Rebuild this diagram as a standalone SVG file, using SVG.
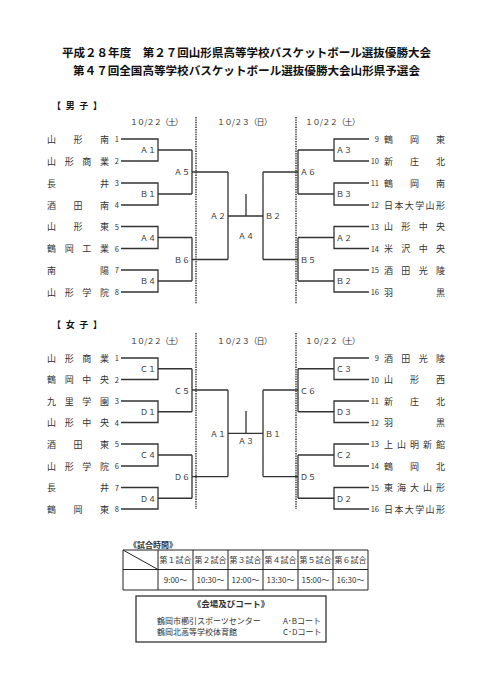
<svg xmlns="http://www.w3.org/2000/svg" width="481" height="680" viewBox="0 0 481 680">
<style>
text{font-family:"Noto Sans CJK JP","Noto Sans",sans-serif;fill:#333}
.t{font-size:11.6px;font-weight:bold;fill:#111}
.h{font-size:9px;font-weight:bold;fill:#111}
.d{font-size:8px}
.n{font-size:9px}
.num{font-size:7.5px}
.lb{font-size:8px}
.tb{font-size:8px}
.ln{fill:none;stroke:#333;stroke-width:1.3}
.dash{fill:none;stroke:#444;stroke-width:1.6;stroke-dasharray:1.4 1}
.grid{fill:none;stroke:#222;stroke-width:1}
</style>
<rect width="481" height="680" fill="#fff"/>
<g id="title">
<text class="t" x="62" y="56.5" textLength="369" lengthAdjust="spacingAndGlyphs">平成２８年度　第２７回山形県高等学校バスケットボール選抜優勝大会</text>
<text class="t" x="73" y="75" textLength="347" lengthAdjust="spacingAndGlyphs">第４７回全国高等学校バスケットボール選抜優勝大会山形県予選会</text>
</g>
<!-- MEN -->
<g id="men">
<text class="h" x="52" y="109" textLength="50" lengthAdjust="spacing">【男子】</text>
<text class="d" x="130" y="125" textLength="53" lengthAdjust="spacing">１０/２２（土）</text>
<text class="d" x="217" y="125" textLength="55" lengthAdjust="spacing">１０/２３（日）</text>
<text class="d" x="305" y="125" textLength="55" lengthAdjust="spacing">１０/２２（土）</text>
<g id="men-left-teams" class="n">
<text class="n" x="47" y="142.5" textLength="62" lengthAdjust="spacing">山形南</text>
<text class="n" x="47" y="164.5" textLength="62" lengthAdjust="spacing">山形商業</text>
<text class="n" x="47" y="186.5" textLength="62" lengthAdjust="spacing">長井</text>
<text class="n" x="47" y="208.5" textLength="62" lengthAdjust="spacing">酒田南</text>
<text class="n" x="47" y="230" textLength="62" lengthAdjust="spacing">山形東</text>
<text class="n" x="47" y="252" textLength="62" lengthAdjust="spacing">鶴岡工業</text>
<text class="n" x="47" y="273.5" textLength="62" lengthAdjust="spacing">南陽</text>
<text class="n" x="47" y="295.5" textLength="62" lengthAdjust="spacing">山形学院</text>
</g>
<g id="men-left-nums" text-anchor="end">
<text class="num" x="119" y="142">1</text>
<text class="num" x="119" y="164">2</text>
<text class="num" x="119" y="186">3</text>
<text class="num" x="119" y="208">4</text>
<text class="num" x="119" y="229.5">5</text>
<text class="num" x="119" y="251.5">6</text>
<text class="num" x="119" y="273">7</text>
<text class="num" x="119" y="295">8</text>
</g>
<g id="men-right-nums" text-anchor="end">
<text class="num" x="379" y="142">9</text>
<text class="num" x="379" y="164">10</text>
<text class="num" x="379" y="186">11</text>
<text class="num" x="379" y="208">12</text>
<text class="num" x="379" y="229.5">13</text>
<text class="num" x="379" y="251.5">14</text>
<text class="num" x="379" y="273">15</text>
<text class="num" x="379" y="295">16</text>
</g>
<g id="men-right-teams">
<text class="n" x="384" y="142.5" textLength="61" lengthAdjust="spacing">鶴岡東</text>
<text class="n" x="384" y="164.5" textLength="61" lengthAdjust="spacing">新庄北</text>
<text class="n" x="384" y="186.5" textLength="61" lengthAdjust="spacing">鶴岡南</text>
<text class="n" x="384" y="208.5" textLength="61" lengthAdjust="spacing">日本大学山形</text>
<text class="n" x="384" y="230" textLength="61" lengthAdjust="spacing">山形中央</text>
<text class="n" x="384" y="252" textLength="61" lengthAdjust="spacing">米沢中央</text>
<text class="n" x="384" y="273.5" textLength="61" lengthAdjust="spacing">酒田光陵</text>
<text class="n" x="384" y="295.5" textLength="61" lengthAdjust="spacing">羽黒</text>
</g>
<g id="men-labels">
<g text-anchor="end">
<text class="lb" x="156" y="153">Ａ１</text>
<text class="lb" x="156" y="197">Ｂ１</text>
<text class="lb" x="156" y="240.5">Ａ４</text>
<text class="lb" x="156" y="284">Ｂ４</text>
<text class="lb" x="190" y="175">Ａ５</text>
<text class="lb" x="190" y="262.5">Ｂ６</text>
<text class="lb" x="226" y="219">Ａ２</text>
</g>
<text class="lb" x="265" y="219">Ｂ２</text>
<text class="lb" x="246" y="238.5" text-anchor="middle">Ａ４</text>
<text class="lb" x="336" y="153">Ａ３</text>
<text class="lb" x="336" y="197">Ｂ３</text>
<text class="lb" x="336" y="240.5">Ａ２</text>
<text class="lb" x="336" y="284">Ｂ２</text>
<text class="lb" x="300" y="175">Ａ６</text>
<text class="lb" x="300" y="262.5">Ｂ５</text>
</g>
</g>
<!-- WOMEN -->
<g id="women">
<text class="h" x="52" y="328" textLength="50" lengthAdjust="spacing">【女子】</text>
<text class="d" x="130" y="344" textLength="53" lengthAdjust="spacing">１０/２２（土）</text>
<text class="d" x="217" y="344" textLength="55" lengthAdjust="spacing">１０/２３（日）</text>
<text class="d" x="305" y="344" textLength="55" lengthAdjust="spacing">１０/２２（土）</text>
<g id="women-left-teams">
<text class="n" x="47" y="361.5" textLength="62" lengthAdjust="spacing">山形商業</text>
<text class="n" x="47" y="383" textLength="62" lengthAdjust="spacing">鶴岡中央</text>
<text class="n" x="47" y="404.5" textLength="62" lengthAdjust="spacing">九里学園</text>
<text class="n" x="47" y="426" textLength="62" lengthAdjust="spacing">山形中央</text>
<text class="n" x="47" y="447.5" textLength="62" lengthAdjust="spacing">酒田東</text>
<text class="n" x="47" y="469.5" textLength="62" lengthAdjust="spacing">山形学院</text>
<text class="n" x="47" y="491" textLength="62" lengthAdjust="spacing">長井</text>
<text class="n" x="47" y="512.5" textLength="62" lengthAdjust="spacing">鶴岡東</text>
</g>
<g id="women-left-nums" text-anchor="end">
<text class="num" x="119" y="361">1</text>
<text class="num" x="119" y="382.5">2</text>
<text class="num" x="119" y="404">3</text>
<text class="num" x="119" y="425.5">4</text>
<text class="num" x="119" y="447">5</text>
<text class="num" x="119" y="469">6</text>
<text class="num" x="119" y="490.5">7</text>
<text class="num" x="119" y="512">8</text>
</g>
<g id="women-right-nums" text-anchor="end">
<text class="num" x="379" y="361">9</text>
<text class="num" x="379" y="382.5">10</text>
<text class="num" x="379" y="404">11</text>
<text class="num" x="379" y="425.5">12</text>
<text class="num" x="379" y="447">13</text>
<text class="num" x="379" y="469">14</text>
<text class="num" x="379" y="490.5">15</text>
<text class="num" x="379" y="512">16</text>
</g>
<g id="women-right-teams">
<text class="n" x="384" y="361.5" textLength="61" lengthAdjust="spacing">酒田光陵</text>
<text class="n" x="384" y="383" textLength="61" lengthAdjust="spacing">山形西</text>
<text class="n" x="384" y="404.5" textLength="61" lengthAdjust="spacing">新庄北</text>
<text class="n" x="384" y="426" textLength="61" lengthAdjust="spacing">羽黒</text>
<text class="n" x="384" y="447.5" textLength="61" lengthAdjust="spacing">上山明新館</text>
<text class="n" x="384" y="469.5" textLength="61" lengthAdjust="spacing">鶴岡北</text>
<text class="n" x="384" y="491" textLength="61" lengthAdjust="spacing">東海大山形</text>
<text class="n" x="384" y="512.5" textLength="61" lengthAdjust="spacing">日本大学山形</text>
</g>
<g id="women-labels">
<g text-anchor="end">
<text class="lb" x="156" y="372">Ｃ１</text>
<text class="lb" x="156" y="415">Ｄ１</text>
<text class="lb" x="156" y="458">Ｃ４</text>
<text class="lb" x="156" y="501.5">Ｄ４</text>
<text class="lb" x="190" y="393.5">Ｃ５</text>
<text class="lb" x="190" y="480">Ｄ６</text>
<text class="lb" x="226" y="436.5">Ａ１</text>
</g>
<text class="lb" x="265" y="436.5">Ｂ１</text>
<text class="lb" x="246" y="443.5" text-anchor="middle">Ａ３</text>
<text class="lb" x="336" y="372">Ｃ３</text>
<text class="lb" x="336" y="415">Ｄ３</text>
<text class="lb" x="336" y="458">Ｃ２</text>
<text class="lb" x="336" y="501.5">Ｄ２</text>
<text class="lb" x="300" y="393.5">Ｃ６</text>
<text class="lb" x="300" y="480">Ｄ５</text>
</g>
</g>
<g id="connectors">
<path class="dash" d="M196 117V304M296 117V304M196 333V509M296 333V509"/>
<!-- men -->
<path class="ln" d="M121 139H158V161H121M158 150H192M121 183H158V205H121M158 194H192M192 150V194M192 172H228
M121 226.5H158V248.5H121M158 237.5H192M121 270H158V292H121M158 281H192M192 237.5V281M192 259.5H228
M228 172V259.5M228 216H263M263 172V259.5M246 194V216M263 172H298M263 259.5H298
M369 139H334V161H369M334 150H298M369 183H334V205H369M334 194H298M298 150V194
M369 226.5H334V248.5H369M334 237.5H298M369 270H334V292H369M334 281H298M298 237.5V281"/>
<!-- women -->
<path class="ln" d="M121 358H158V379.5H121M158 368.75H192M121 401H158V422.5H121M158 411.75H192M192 368.75V411.75M192 390H228
M121 444H158V466H121M158 455H192M121 487.5H158V509H121M158 498.25H192M192 455V498.25M192 476.6H228
M228 390V476.6M228 433.4H263M263 390V476.6M246 411V433.4M263 390H298M263 476.6H298
M369 358H334V379.5H369M334 368.75H298M369 401H334V422.5H369M334 411.75H298M298 368.75V411.75
M369 444H334V466H369M334 455H298M369 487.5H334V509H369M334 498.25H298M298 455V498.25"/>
</g>
<g id="schedule">
<text class="tb" x="129" y="548" font-weight="bold" fill="#111">《試合時間》</text>
<path class="grid" d="M123 550H368V590H123ZM123 569.5H368M158 550V590M193 550V590M228 550V590M263 550V590M298 550V590M333 550V590M123 550L158 569.5"/>
<g text-anchor="middle" class="tb">
<text class="tb" x="175.5" y="563">第１試合</text>
<text class="tb" x="210.5" y="563">第２試合</text>
<text class="tb" x="245.5" y="563">第３試合</text>
<text class="tb" x="280.5" y="563">第４試合</text>
<text class="tb" x="315.5" y="563">第５試合</text>
<text class="tb" x="350.5" y="563">第６試合</text>
<text class="tb" x="175.5" y="583">9:00～</text>
<text class="tb" x="210.5" y="583">10:30～</text>
<text class="tb" x="245.5" y="583">12:00～</text>
<text class="tb" x="280.5" y="583">13:30～</text>
<text class="tb" x="315.5" y="583">15:00～</text>
<text class="tb" x="350.5" y="583">16:30～</text>
</g>
</g>
<g id="venue">
<rect x="136" y="596" width="190" height="46" fill="none" stroke="#222" stroke-width="1.2"/>
<text x="231" y="607" text-anchor="middle" font-size="8.5" font-weight="bold" fill="#111">《会場及びコート》</text>
<text class="tb" x="157" y="624">鶴岡市櫛引スポーツセンター</text>
<text class="tb" x="283" y="624">A･Bコート</text>
<text class="tb" x="157" y="635">鶴岡北高等学校体育館</text>
<text class="tb" x="283" y="635">C･Dコート</text>
</g>
</svg>
